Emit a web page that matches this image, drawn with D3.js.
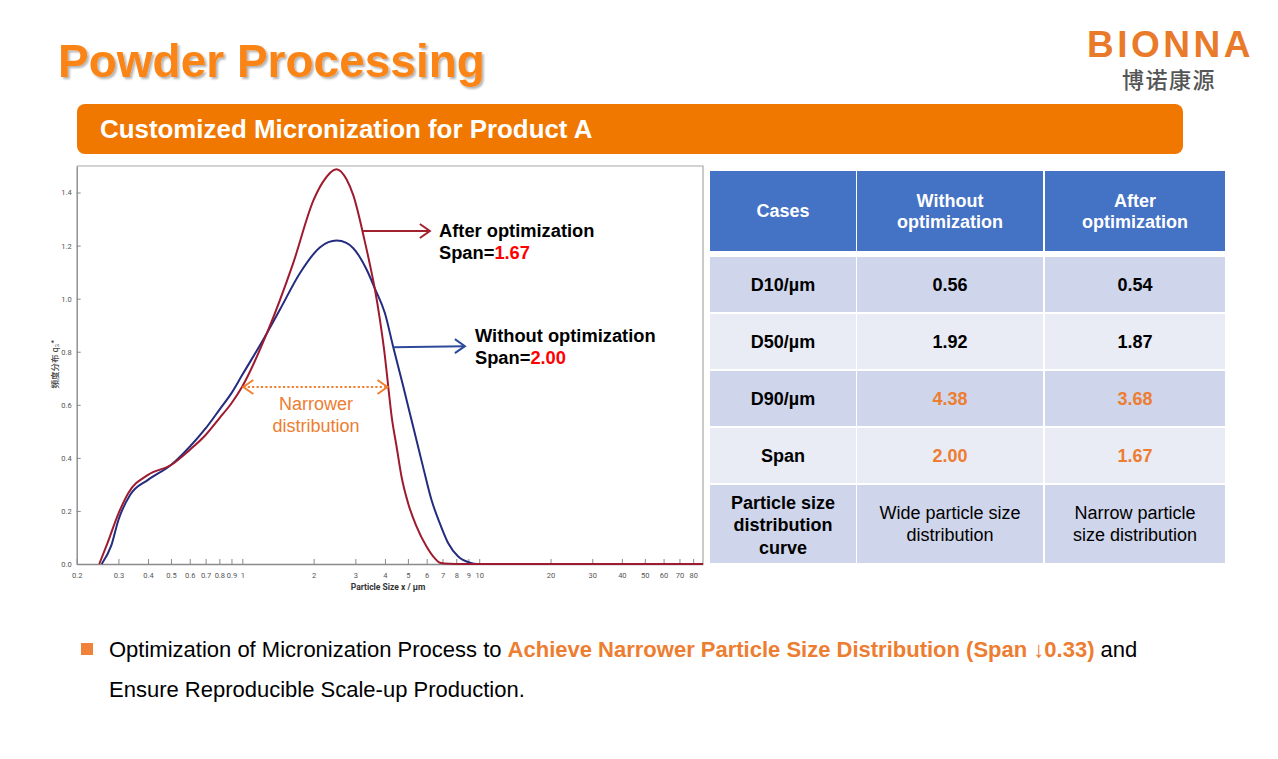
<!DOCTYPE html>
<html>
<head>
<meta charset="utf-8">
<script src="https://cdn.jsdelivr.net/npm/d3@7/dist/d3.min.js"></script>
<style>
  html, body { margin: 0; padding: 0; background: #ffffff; }
  svg { display: block; }
</style>
</head>
<body>
<svg id="chart" width="1278" height="759"></svg>
<script>
// ---------------- DATA ----------------
const afterSizes = [0.249, 0.27, 0.30, 0.33, 0.40, 0.50, 0.60, 0.70, 0.80, 0.90, 1.0, 1.27, 1.64, 2.0, 2.19, 2.5, 2.76, 2.94, 3.29, 3.51, 3.62, 3.81, 4.0, 4.13, 4.27, 4.48, 4.70, 5.01, 5.44, 6.0, 6.5, 6.82, 7.5, 8.5, 88];
const afterFreq  = [0, 0.08, 0.19, 0.267, 0.336, 0.373, 0.43, 0.486, 0.549, 0.606, 0.669, 0.87, 1.134, 1.372, 1.44, 1.488, 1.448, 1.39, 1.215, 1.1, 1.04, 0.92, 0.782, 0.669, 0.555, 0.442, 0.329, 0.229, 0.141, 0.065, 0.021, 0.005, 0.001, 0, 0];

const withoutSizes = [0.255, 0.28, 0.30, 0.336, 0.40, 0.50, 0.60, 0.70, 0.80, 0.90, 1.0, 1.225, 1.44, 1.75, 2.13, 2.5, 2.75, 2.94, 3.35, 3.62, 4.0, 4.33, 4.78, 5.26, 5.79, 6.29, 6.82, 7.40, 8.15, 9.13, 9.8, 88];
const withoutFreq  = [0, 0.07, 0.166, 0.26, 0.317, 0.373, 0.442, 0.511, 0.581, 0.644, 0.713, 0.845, 0.958, 1.096, 1.194, 1.219, 1.21, 1.19, 1.109, 1.04, 0.945, 0.82, 0.669, 0.518, 0.367, 0.241, 0.153, 0.078, 0.028, 0.005, 0, 0];

const xTickValues = [0.2, 0.3, 0.4, 0.5, 0.6, 0.7, 0.8, 0.9, 1, 2, 3, 4, 5, 6, 7, 8, 9, 10, 20, 30, 40, 50, 60, 70, 80];
const yTickValues = [0, 0.2, 0.4, 0.6, 0.8, 1.0, 1.2, 1.4];

const tableHeader = ["Cases", "Without\noptimization", "After\noptimization"];
const rowLabels   = ["D10/µm", "D50/µm", "D90/µm", "Span", "Particle size\ndistribution\ncurve"];
const withoutVals = ["0.56", "1.92", "4.38", "2.00", "Wide particle size\ndistribution"];
const afterVals   = ["0.54", "1.87", "3.68", "1.67", "Narrow particle\nsize distribution"];
const highlightRows = [2, 3];

// ---------------- STYLE ----------------
const ORANGE = "#ED7D31";
const RED_CURVE = "#9E1B2F";
const BLUE_CURVE = "#232C7E";
const SANS = "'Liberation Sans', Arial, sans-serif";

const svg = d3.select("#chart");

const defs = svg.append("defs");
const f = defs.append("filter").attr("id", "shadow").attr("x", "-5%").attr("y", "-10%").attr("width", "115%").attr("height", "130%");
f.append("feDropShadow").attr("dx", 2).attr("dy", 2).attr("stdDeviation", 1.2).attr("flood-color", "#000").attr("flood-opacity", 0.3);

// ---------------- HEADER ----------------
svg.append("text").attr("x", 58).attr("y", 77)
  .attr("font-family", SANS).attr("font-weight", "bold").attr("font-size", 46)
  .attr("fill", "#FA8419").attr("filter", "url(#shadow)")
  .text("Powder Processing");

svg.append("text").attr("x", 1087).attr("y", 57)
  .attr("font-family", SANS).attr("font-weight", "bold").attr("font-size", 37)
  .attr("letter-spacing", 3.5).attr("fill", "#E87A2A")
  .text("BIONNA");
svg.append("text").attr("x", 1169).attr("y", 88).attr("text-anchor", "middle")
  .attr("font-family", "'Noto Sans CJK SC', sans-serif").attr("font-weight", 500).attr("font-size", 22)
  .attr("letter-spacing", 1.5).attr("fill", "#555")
  .text("博诺康源");

svg.append("rect").attr("x", 77).attr("y", 104).attr("width", 1106).attr("height", 50).attr("rx", 8)
  .attr("fill", "#F07800");
svg.append("text").attr("x", 100).attr("y", 138)
  .attr("font-family", SANS).attr("font-weight", "bold").attr("font-size", 25.9)
  .attr("fill", "#fff")
  .text("Customized Micronization for Product A");

// ---------------- CHART ----------------
const plot = { left: 76.7, right: 703, top: 166, bottom: 564 };
const x = d3.scaleLog().domain([0.2, 88]).range([plot.left, plot.right]);
const y = d3.scaleLinear().domain([0, 1.5]).range([plot.bottom, plot.top]);

const g = svg.append("g");
g.append("path")
  .attr("d", `M${plot.left},${plot.top}H${plot.right}V${plot.bottom}`)
  .attr("fill", "none").attr("stroke", "#a8a8a8").attr("stroke-width", 1.2);

const xAxis = d3.axisBottom(x).tickValues(xTickValues).tickSizeInner(-5).tickSizeOuter(0)
  .tickPadding(9).tickFormat(d => d3.format("~g")(d));
const gx = g.append("g").attr("transform", `translate(0,${plot.bottom})`).call(xAxis);
gx.select(".domain").attr("stroke", "#8a8a8a").attr("stroke-width", 1.4);
gx.selectAll(".tick line").attr("stroke", "#8a8a8a");
gx.selectAll(".tick text").attr("font-family", "Roboto, sans-serif").attr("font-size", 7.5).attr("fill", "#555");

const yAxis = d3.axisLeft(y).tickValues(yTickValues).tickSizeInner(-4).tickSizeOuter(0)
  .tickPadding(5).tickFormat(d3.format(".1f"));
const gy = g.append("g").attr("transform", `translate(${plot.left},0)`).call(yAxis);
gy.select(".domain").attr("stroke", "#8a8a8a").attr("stroke-width", 1.4);
gy.selectAll(".tick line").attr("stroke", "#8a8a8a");
gy.selectAll(".tick text").attr("font-family", "Roboto, sans-serif").attr("font-size", 7.5).attr("fill", "#555");

g.append("text").attr("transform", "translate(58,364) rotate(-90)").attr("text-anchor", "middle")
  .attr("font-family", "'Noto Sans CJK JP', sans-serif").attr("font-size", 8.5).attr("font-weight", 500).attr("fill", "#444")
  .text("頻度分布 q₃*");
g.append("text").attr("x", 388).attr("y", 590).attr("text-anchor", "middle")
  .attr("font-family", "Roboto, sans-serif").attr("font-size", 8.5).attr("font-weight", "bold").attr("fill", "#333")
  .text("Particle Size x / µm");

const line = d3.line().x(d => x(d[0])).y(d => y(d[1])).curve(d3.curveMonotoneX);
g.append("path").datum(d3.zip(withoutSizes, withoutFreq)).attr("d", line)
  .attr("fill", "none").attr("stroke", BLUE_CURVE).attr("stroke-width", 2);
g.append("path").datum(d3.zip(afterSizes, afterFreq)).attr("d", line)
  .attr("fill", "none").attr("stroke", RED_CURVE).attr("stroke-width", 2);

// annotation arrows
function arrow(x1, y1, x2, y2, color, dash, both) {
  const a = g.append("g");
  a.append("line").attr("x1", x1).attr("y1", y1).attr("x2", x2).attr("y2", y2)
    .attr("stroke", color).attr("stroke-width", 2).attr("stroke-dasharray", dash || null);
  const head = (tx, ty, dir) => {
    a.append("path").attr("d", `M${tx - dir * 10},${ty - 7}L${tx},${ty}L${tx - dir * 10},${ty + 7}`)
      .attr("fill", "none").attr("stroke", color).attr("stroke-width", 2);
  };
  head(x2, y2, 1);
  if (both) head(x1, y1, -1);
}
arrow(x(3.22), y(1.255), x(6.19), y(1.255), "#A3202E");
arrow(x(4.33), y(0.817), x(8.7), y(0.821), "#2E4A9B");
arrow(x(1.01), y(0.667), x(4.1), y(0.667), "#F08030", "2.2,2.2", true);

function annot(tx, ty, title, value) {
  g.append("text").attr("x", tx).attr("y", ty)
    .attr("font-family", SANS).attr("font-weight", "bold").attr("font-size", 18.3).attr("fill", "#000")
    .text(title);
  const t = g.append("text").attr("x", tx).attr("y", ty + 22)
    .attr("font-family", SANS).attr("font-weight", "bold").attr("font-size", 18.3).attr("fill", "#000");
  t.append("tspan").text("Span=");
  t.append("tspan").attr("fill", "#FF0000").text(value);
}
annot(439, 237, "After optimization", "1.67");
annot(475, 342, "Without optimization", "2.00");

g.append("text").attr("x", 316).attr("y", 410).attr("text-anchor", "middle")
  .attr("font-family", SANS).attr("font-size", 18).attr("fill", ORANGE).text("Narrower");
g.append("text").attr("x", 316).attr("y", 432).attr("text-anchor", "middle")
  .attr("font-family", SANS).attr("font-size", 18).attr("fill", ORANGE).text("distribution");

// ---------------- TABLE ----------------
const colX = [710, 857, 1045];
const colW = [146, 186, 180];
const headerY = 171, headerH = 80;
const rowY = [257, 314, 371, 428, 485];
const rowH = [55, 55, 55, 55, 78];

const tg = svg.append("g");
function cellText(cx, cy, str, opts) {
  const lines = str.split("\n");
  const lh = opts.lh || 22;
  const t = tg.append("text").attr("text-anchor", "middle")
    .attr("font-family", SANS).attr("font-size", 18)
    .attr("font-weight", opts.bold ? "bold" : "normal").attr("fill", opts.fill || "#000");
  lines.forEach((s, i) => {
    t.append("tspan").attr("x", cx).attr("y", cy + (i - (lines.length - 1) / 2) * lh).attr("dy", "0.35em").text(s);
  });
}
tableHeader.forEach((h, c) => {
  tg.append("rect").attr("x", colX[c]).attr("y", headerY).attr("width", colW[c]).attr("height", headerH).attr("fill", "#4472C4");
  cellText(colX[c] + colW[c] / 2, headerY + headerH / 2, h, { bold: true, fill: "#fff", lh: 21.5 });
});
rowLabels.forEach((lab, r) => {
  const fill = r % 2 === 0 ? "#CFD5EA" : "#E9EBF5";
  const vals = [lab, withoutVals[r], afterVals[r]];
  vals.forEach((v, c) => {
    tg.append("rect").attr("x", colX[c]).attr("y", rowY[r]).attr("width", colW[c]).attr("height", rowH[r]).attr("fill", fill);
    const isLast = r === rowLabels.length - 1;
    const bold = c === 0 || !isLast;
    const color = (c > 0 && highlightRows.includes(r)) ? ORANGE : "#000";
    cellText(colX[c] + colW[c] / 2, rowY[r] + rowH[r] / 2 + (c === 0 && isLast ? 1 : 0), v,
      { bold, fill: color, lh: c === 0 ? 22.5 : 22 });
  });
});

// ---------------- BOTTOM TEXT ----------------
svg.append("rect").attr("x", 81).attr("y", 643).attr("width", 12).attr("height", 12).attr("fill", "#F0823A");
const b1 = svg.append("text").attr("x", 109).attr("y", 657).attr("font-family", SANS).attr("font-size", 22).attr("fill", "#000");
b1.append("tspan").text("Optimization of Micronization Process to ");
b1.append("tspan").attr("font-weight", "bold").attr("fill", ORANGE).text("Achieve Narrower Particle Size Distribution (Span ");
b1.append("tspan").attr("fill", ORANGE).text("↓");
b1.append("tspan").attr("font-weight", "bold").attr("fill", ORANGE).text("0.33)");
b1.append("tspan").text(" and");
svg.append("text").attr("x", 109).attr("y", 697).attr("font-family", SANS).attr("font-size", 22).attr("fill", "#000")
  .text("Ensure Reproducible Scale-up Production.");
</script>
</body>
</html>
